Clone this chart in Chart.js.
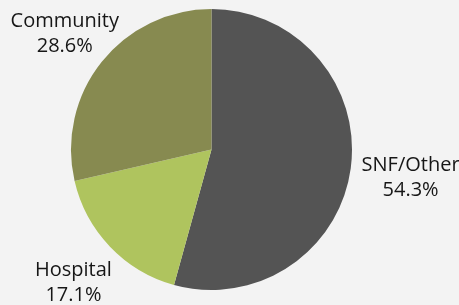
<!DOCTYPE html>
<html>
<head>
<meta charset="utf-8">
<script src="https://cdn.jsdelivr.net/npm/chart.js@4"></script>
<style>
html,body{margin:0;padding:0;background:#f3f3f3;}
#wrap{width:459px;height:305px;position:relative;}
</style>
</head>
<body>
<div id="wrap"><canvas id="c" width="459" height="305"></canvas></div>
<script>
const categories = ["SNF/Other", "Hospital", "Community"];
const values = [54.3, 17.1, 28.6];
const valueLabels = ["54.3%", "17.1%", "28.6%"];
const colors = ["#545454", "#afc45e", "#878a50"];

const labelDist = [1.43, 1.36, 1.335];

const labelPlugin = {
  id: 'outLabels',
  afterDatasetsDraw(chart) {
    const ctx = chart.ctx;
    const meta = chart.getDatasetMeta(0);
    ctx.save();
    ctx.font = '20px "Open Sans", sans-serif';
    ctx.fillStyle = '#161616';
    ctx.textAlign = 'center';
    ctx.textBaseline = 'middle';
    meta.data.forEach((arc, i) => {
      const p = arc.getProps(['x','y','startAngle','endAngle','outerRadius'], true);
      const mid = (p.startAngle + p.endAngle) / 2;
      const d = p.outerRadius * labelDist[i];
      const cx = p.x + Math.cos(mid) * d;
      const cy = p.y + Math.sin(mid) * d + 1;
      ctx.fillText(categories[i], cx, cy - 12.5);
      ctx.fillText(valueLabels[i], cx, cy + 12.5);
    });
    ctx.restore();
  }
};

new Chart(document.getElementById('c'), {
  type: 'pie',
  data: {
    labels: categories,
    datasets: [{ data: values, backgroundColor: colors, borderWidth: 0 }]
  },
  options: {
    responsive: false,
    animation: false,
    layout: { padding: { left: 71, right: 107, top: 9, bottom: 15 } },
    plugins: { legend: { display: false }, tooltip: { enabled: false } }
  },
  plugins: [labelPlugin]
});
</script>
</body>
</html>
